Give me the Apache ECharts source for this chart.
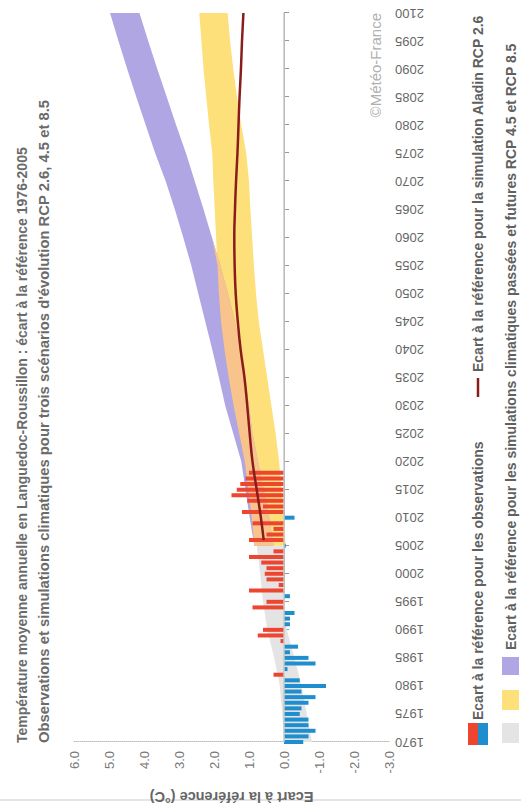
<!DOCTYPE html>
<html><head><meta charset="utf-8">
<script src="https://cdn.jsdelivr.net/npm/echarts@6/dist/echarts.min.js"></script>
<style>
html,body{margin:0;padding:0;background:#fff;overflow:hidden;width:521px;height:812px;}
#wrap{position:absolute;left:0;top:0;width:812px;height:521px;transform-origin:0 0;transform:translateY(812px) rotate(-90deg);background:#fff;}
</style></head><body><div id="wrap"></div>
<script>
// Observations: anomaly vs 1976-2005 reference (°C)
const obsYears = [1970,1971,1972,1973,1974,1975,1976,1977,1978,1979,1980,1981,1982,1983,1984,1985,1986,1987,1988,1989,
  1990,1991,1992,1993,1994,1995,1996,1997,1998,1999,2000,2001,2002,2003,2004,2005,2006,2007,2008,2009,
  2010,2011,2012,2013,2014,2015,2016,2017,2018];
const obsValues = [-0.55,-0.7,-0.9,-0.7,-0.7,-0.45,-0.5,-0.7,-0.9,-0.5,-1.2,-0.45,0.3,-0.1,-0.9,-0.7,-0.17,-0.4,0.1,0.75,
  0.6,-0.17,-0.17,-0.3,0.9,0.5,-0.17,1.0,0.15,0.5,0.55,0.5,0.65,1.0,0.3,-0.05,1.0,0.5,0.3,0.9,
  -0.3,1.2,0.6,1.05,1.5,1.35,1.25,1.1,1.0];
// Past simulations envelope (grey)
const histYears = [1970,1975,1980,1985,1990,1995,2000,2005];
const histLow  = [-0.8,-0.65,-0.5,-0.3,-0.08,-0.02,0.0,0.02];
const histHigh = [0.0,0.05,0.12,0.28,0.48,0.6,0.68,0.78];
// Future envelopes
const futYears = [2005,2010,2015,2020,2025,2030,2035,2040,2045,2050,2055,2060,2065,2070,2075,2080,2085,2090,2095,2100];
const rcp45Low  = [-0.05,0.0,0.07,0.14,0.24,0.36,0.48,0.6,0.72,0.8,0.86,0.91,0.96,1.0,1.08,1.22,1.34,1.45,1.54,1.61];
const rcp45High = [0.85,0.92,1.02,1.12,1.28,1.44,1.58,1.7,1.8,1.86,1.9,1.94,1.98,2.02,2.05,2.14,2.22,2.3,2.36,2.42];
const rcp85Low  = [0.3,0.42,0.58,0.74,0.9,1.0,1.12,1.25,1.4,1.6,1.82,2.06,2.3,2.55,2.8,3.08,3.35,3.62,3.88,4.13];
const rcp85High = [0.85,0.98,1.1,1.22,1.45,1.68,1.86,2.05,2.25,2.45,2.65,2.88,3.12,3.38,3.68,3.95,4.22,4.48,4.73,4.97];
// Aladin RCP 2.6 simulation
const aladinYears  = [2006,2010,2015,2020,2025,2030,2035,2040,2045,2050,2055,2060,2065,2070,2075,2080,2085,2090,2095,2100];
const aladinValues = [0.58,0.66,0.78,0.9,0.98,1.05,1.13,1.24,1.32,1.38,1.41,1.42,1.4,1.37,1.33,1.3,1.27,1.23,1.2,1.16];

const titleText = 'Température moyenne annuelle en Languedoc-Roussillon : écart à la référence 1976-2005';
const subtitleText = "Observations et simulations climatiques pour trois scénarios d'évolution RCP 2.6, 4.5 et 8.5";
const yAxisName = 'Ecart à la référence (°C)';
const legendObs = 'Ecart à la référence pour les observations';
const legendAladin = 'Ecart à la référence pour la simulation Aladin RCP 2.6';
const legendSims = 'Ecart à la référence pour les simulations climatiques passées et futures RCP 4.5 et RCP 8.5';
const credit = '©Météo-France';

const RED = '#ee4530', BLUE = '#1e8ecf', GREY = '#e4e4e4', YELLOW = '#fde07a', PURPLE = '#afa6e3', ORANGE = '#f8c48c', LINE = '#8a1c1c';
const FONT = '"Liberation Sans", Arial, sans-serif';

function band(years, low, high, color, z) {
  return {
    type: 'custom', silent: true, z: z,
    data: years.map((y, i) => [y, low[i], Math.max(low[i], high[i])]),
    encode: { x: 0, y: [1, 2] },
    renderItem: function (params, api) {
      if (params.dataIndexInside !== 0) return null;
      const n = params.dataInsideLength;
      const pts = [];
      for (let i = 0; i < n; i++) pts.push(api.coord([api.value(0, i), api.value(2, i)]));
      for (let i = n - 1; i >= 0; i--) pts.push(api.coord([api.value(0, i), api.value(1, i)]));
      return { type: 'polygon', shape: { points: pts }, style: { fill: color } };
    }
  };
}
const overLow = futYears.map((y, i) => Math.max(rcp45Low[i], rcp85Low[i]));
const overHigh = futYears.map((y, i) => Math.min(rcp45High[i], rcp85High[i]));

const chart = echarts.init(document.getElementById('wrap'), null, { renderer: 'svg', width: 812, height: 521 });
chart.setOption({
  backgroundColor: '#fff',
  animation: false,
  textStyle: { fontFamily: FONT },
  title: {
    text: titleText, subtext: subtitleText, left: 64, top: 10, itemGap: 7,
    textStyle: { fontSize: 14, fontWeight: 'bold', color: '#6b6b6b', fontFamily: FONT },
    subtextStyle: { fontSize: 14.8, fontWeight: 'bold', color: '#6b6b6b', fontFamily: FONT }
  },
  grid: { left: 69, right: 13, top: 74, bottom: 132, containLabel: false },
  xAxis: {
    type: 'value', min: 1970, max: 2100, interval: 5,
    axisLine: { show: true, lineStyle: { color: '#999', width: 1 } },
    axisTick: { show: true, length: 5, lineStyle: { color: '#999' } },
    splitLine: { show: false },
    axisLabel: { rotate: 90, margin: 6, fontSize: 13, color: '#666', fontFamily: FONT, formatter: v => String(v) }
  },
  yAxis: {
    type: 'value', min: -3, max: 6, interval: 1,
    name: yAxisName, nameLocation: 'middle', nameGap: 47, nameRotate: 90,
    nameTextStyle: { fontSize: 14.5, fontWeight: 'bold', color: '#666', fontFamily: FONT },
    axisLine: { show: true, lineStyle: { color: '#bbb', type: 'dotted', width: 1 } },
    axisTick: { show: false },
    splitLine: { show: false },
    axisLabel: { margin: 9, fontSize: 13, color: '#777', fontFamily: FONT, formatter: v => v.toFixed(1) }
  },
  series: [
    band(histYears, histLow, histHigh, GREY, 1),
    band(futYears, rcp45Low, rcp45High, YELLOW, 1),
    band(futYears, rcp85Low, rcp85High, PURPLE, 1),
    band(futYears, overLow, overHigh, ORANGE, 1),
    {
      type: 'bar', barWidth: 4, z: 3, silent: true,
      data: obsYears.map((y, i) => [y, obsValues[i]]),
      itemStyle: { color: p => (p.value[1] >= 0 ? RED : BLUE) },
      markLine: { silent: true, symbol: 'none', label: { show: false },
        lineStyle: { color: '#c8c8c8', type: 'solid', width: 1.5 }, data: [{ yAxis: 0 }] }
    },
    {
      type: 'line', z: 4, silent: true, smooth: true, symbol: 'none',
      data: aladinYears.map((y, i) => [y, aladinValues[i]]),
      lineStyle: { color: LINE, width: 2.5 }
    }
  ],
  graphic: [
    { type: 'line', shape: { x1: 12, y1: 0, x2: 12, y2: 521 }, style: { stroke: '#e4e4e4', lineWidth: 2 }, silent: true },
    { type: 'text', x: 799, y: 375, style: { text: credit, fill: '#b0b0b0', font: '15px ' + FONT, align: 'right', verticalAlign: 'middle' } },
    { type: 'rect', shape: { x: 67, y: 468, width: 22, height: 10 }, style: { fill: RED } },
    { type: 'rect', shape: { x: 67, y: 478, width: 22, height: 10 }, style: { fill: BLUE } },
    { type: 'text', x: 92, y: 478, style: { text: legendObs, fill: '#606060', font: 'bold 14px ' + FONT, verticalAlign: 'middle' } },
    { type: 'line', shape: { x1: 415, y1: 478, x2: 434, y2: 478 }, style: { stroke: LINE, lineWidth: 2.5 } },
    { type: 'text', x: 440, y: 478, style: { text: legendAladin, fill: '#606060', font: 'bold 14px ' + FONT, verticalAlign: 'middle' } },
    { type: 'rect', shape: { x: 69, y: 502, width: 20, height: 17 }, style: { fill: GREY } },
    { type: 'rect', shape: { x: 102, y: 502, width: 20, height: 17 }, style: { fill: YELLOW } },
    { type: 'rect', shape: { x: 137, y: 502, width: 18, height: 17 }, style: { fill: PURPLE } },
    { type: 'text', x: 162, y: 511, style: { text: legendSims, fill: '#606060', font: 'bold 14px ' + FONT, verticalAlign: 'middle' } }
  ]
});
</script></body></html>
